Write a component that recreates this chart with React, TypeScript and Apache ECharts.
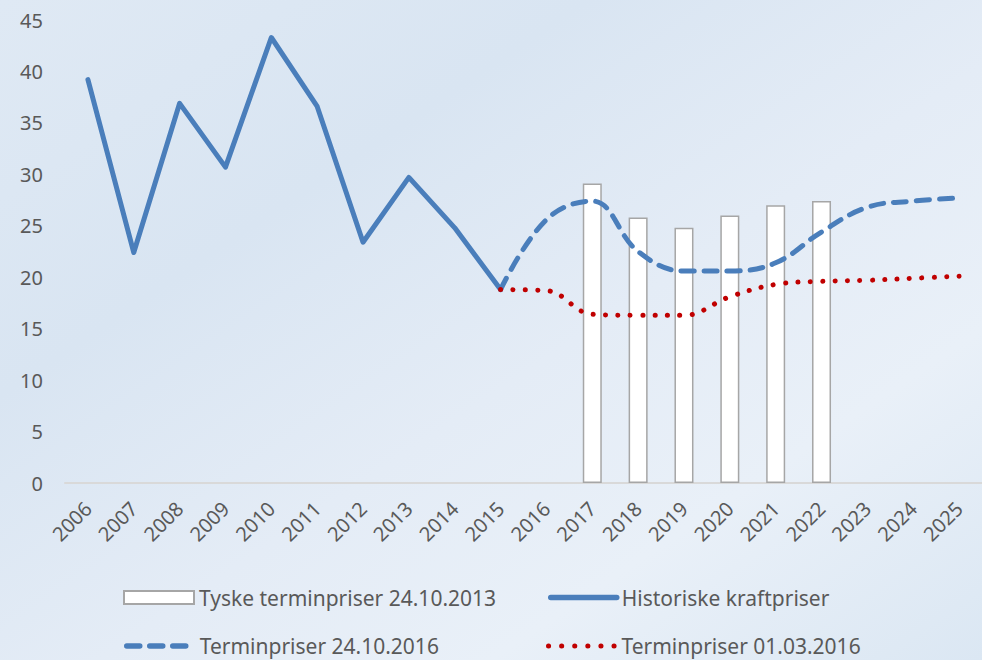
import React, { useEffect, useRef } from "react";
import * as echarts from "echarts";

const years = ["2006","2007","2008","2009","2010","2011","2012","2013","2014","2015","2016","2017","2018","2019","2020","2021","2022","2023","2024","2025"];
const tyske = [null,null,null,null,null,null,null,null,null,null,null,29.1,25.8,24.8,26.0,27.0,27.4,null,null,null];
const historiske = [39.2,22.4,36.9,30.7,43.3,36.6,23.4,29.7,24.8,18.8,null,null,null,null,null,null,null,null,null,null];
const termin2016okt = [null,null,null,null,null,null,null,null,null,18.8,25.6,27.4,22.5,20.6,20.6,21.4,24.4,26.8,27.4,27.7];
const termin2016mar = [null,null,null,null,null,null,null,null,null,18.8,18.7,16.4,16.3,16.3,18.1,19.3,19.6,19.7,19.9,20.1];
const yTicks = { min: 0, max: 45, interval: 5 };

const FONT = "'Noto Sans', sans-serif";
const TXT = "#595959";
const BLUE = "#4a7ebb";
const RED = "#c00000";

export default function App() {
  const ref = useRef<HTMLDivElement>(null);
  useEffect(() => {
    if (!ref.current) return;
    const chart = echarts.init(ref.current, undefined, { renderer: "svg" });
    const textStyle = { color: TXT, fontSize: 21, lineHeight: 21, fontFamily: FONT };
    chart.setOption({
      animation: false,
      backgroundColor: new echarts.graphic.LinearGradient(0, 0, 1, 1, [
        { offset: 0, color: "#dfe9f4" },
        { offset: 0.3, color: "#d9e5f2" },
        { offset: 0.55, color: "#e4ecf6" },
        { offset: 0.75, color: "#e9f0f8" },
        { offset: 1, color: "#dbe7f3" },
      ]),
      grid: { left: 65, right: -6, top: 20, bottom: 177 },
      legend: [
        {
          data: [{ name: "Tyske terminpriser 24.10.2013", icon: "rect" }],
          left: 123, top: 587, padding: 0, itemWidth: 70, itemHeight: 13,
          selectedMode: false, textStyle,
        },
        {
          data: ["Historiske kraftpriser"],
          left: 548, top: 587, padding: 0, itemWidth: 66, itemHeight: 13,
          selectedMode: false, textStyle,
          itemStyle: { opacity: 0 },
          lineStyle: { width: 5.5, cap: "round" },
        },
        {
          data: ["Terminpriser 24.10.2016"],
          left: 124, top: 635.5, padding: 0, itemWidth: 68, itemHeight: 13,
          selectedMode: false, textStyle,
          itemStyle: { opacity: 0 },
          lineStyle: { width: 5.5, cap: "round", type: [13, 10, 13, 10, 13, 30] },
        },
        {
          data: ["Terminpriser 01.03.2016"],
          left: 546, top: 635.5, padding: 0, itemWidth: 68, itemHeight: 13,
          selectedMode: false, textStyle,
          itemStyle: { opacity: 0 },
          lineStyle: { width: 5, cap: "round", type: [0.1, 13] },
        },
      ],
      xAxis: {
        type: "category",
        data: years,
        boundaryGap: true,
        axisLine: { lineStyle: { color: "#d9d9d9", width: 2 } },
        axisTick: { show: false },
        axisLabel: { rotate: 45, color: TXT, fontSize: 20, fontFamily: FONT, margin: 22, interval: 0 },
      },
      yAxis: {
        type: "value",
        min: yTicks.min, max: yTicks.max, interval: yTicks.interval,
        axisLine: { show: false },
        axisTick: { show: false },
        splitLine: { show: false },
        axisLabel: { color: TXT, fontSize: 20, fontFamily: FONT, margin: 22 },
      },
      series: [
        {
          name: "Tyske terminpriser 24.10.2013",
          type: "bar",
          data: tyske,
          barWidth: 19,
          itemStyle: { color: "#ffffff", borderColor: "#a6a6a6", borderWidth: 1.5 },
        },
        {
          name: "Historiske kraftpriser",
          type: "line",
          data: historiske,
          symbol: "none",
          lineStyle: { color: BLUE, width: 5, cap: "round", join: "round" },
          itemStyle: { color: BLUE },
        },
        {
          name: "Terminpriser 24.10.2016",
          type: "line",
          data: termin2016okt,
          symbol: "none",
          smooth: 0.4,
          lineStyle: { color: BLUE, width: 5, type: [13, 10], cap: "round" },
          itemStyle: { color: BLUE },
        },
        {
          name: "Terminpriser 01.03.2016",
          type: "line",
          data: termin2016mar,
          symbol: "none",
          smooth: 0.4,
          lineStyle: { color: RED, width: 5, type: [0.1, 12.3], cap: "round" },
          itemStyle: { color: RED },
        },
      ],
    });
    return () => chart.dispose();
  }, []);
  return <div ref={ref} style={{ position: "absolute", left: 0, top: 0, width: 982, height: 660 }} />;
}
